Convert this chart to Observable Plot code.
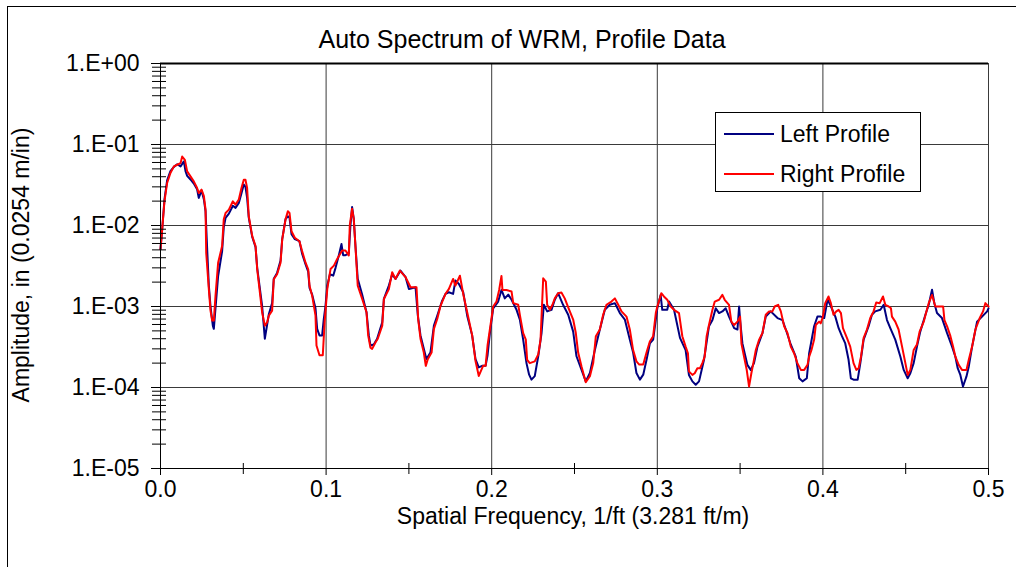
<!DOCTYPE html>
<html>
<head>
<meta charset="utf-8">
<script src="https://cdn.jsdelivr.net/npm/d3@7"></script>
<script src="https://cdn.jsdelivr.net/npm/@observablehq/plot@0.6"></script>
<style>
  html, body { margin: 0; padding: 0; background: #fff; }
  body { font-family: "Liberation Sans", Arial, sans-serif; color: #000; }
  #wrap { position: relative; width: 1016px; height: 567px; overflow: hidden; background: #fff; }
  #chart { position: absolute; left: 0; top: 0; }
  #outer { position: absolute; left: 7px; top: 6px; width: 1200px; height: 800px; border-left: 1px solid #000; border-top: 1px solid #000; pointer-events: none; }
  .txt { position: absolute; white-space: nowrap; font-size: 23px; line-height: 1; }
  #title { left: 522px; top: 27px; transform: translateX(-50%); font-size: 25px; }
  #xtitle { left: 573px; top: 505px; transform: translateX(-50%); }
  #ytitle { left: 21px; top: 265px; transform: translate(-50%, -50%) rotate(-90deg); }
  #legend { position: absolute; left: 715px; top: 112px; width: 206px; height: 80px; box-sizing: border-box; border: 1px solid #000; background: #fff; }
  .row { position: absolute; left: 0; height: 24px; }
  .row svg { position: absolute; left: 8px; top: 0; }
  .row span { position: absolute; left: 64px; top: 1px; font-size: 23px; line-height: 1; white-space: nowrap; }
</style>
</head>
<body>
<div id="wrap">
  <div id="chart"></div>
  <div id="outer"></div>
  <div id="title" class="txt"></div>
  <div id="xtitle" class="txt"></div>
  <div id="ytitle" class="txt"></div>
  <div id="legend"></div>
</div>
<script>
const titleText = "Auto Spectrum of WRM, Profile Data";
const xTitleText = "Spatial Frequency, 1/ft (3.281 ft/m)";
const yTitleText = "Amplitude, in (0.0254 m/in)";
const seriesNames = ["Left Profile", "Right Profile"];
const seriesColors = ["#000080", "#ff0000"];

const xMajorTicks = [0, 0.1, 0.2, 0.3, 0.4, 0.5];
const xMinorTicks = [0.05, 0.15, 0.25, 0.35, 0.45];
const yMajorTicks = [1, 0.1, 0.01, 0.001, 0.0001, 0.00001];
const yMinorTicks = [
  2e-5, 3e-5, 4e-5, 5e-5, 6e-5, 7e-5, 8e-5, 9e-5,
  2e-4, 3e-4, 4e-4, 5e-4, 6e-4, 7e-4, 8e-4, 9e-4,
  2e-3, 3e-3, 4e-3, 5e-3, 6e-3, 7e-3, 8e-3, 9e-3,
  2e-2, 3e-2, 4e-2, 5e-2, 6e-2, 7e-2, 8e-2, 9e-2,
  2e-1, 3e-1, 4e-1, 5e-1, 6e-1, 7e-1, 8e-1, 9e-1
];

const leftFreq = [
0.0000,0.0010,0.0024,0.0040,0.0060,0.0081,0.0101,0.0121,0.0141,0.0151,0.0161,0.0181,0.0201,0.0221,0.0231,0.0248,0.0262,0.0272,0.0282,0.0292,
0.0302,0.0316,0.0322,0.0332,0.0348,0.0372,0.0382,0.0393,0.0413,0.0437,0.0453,0.0473,0.0489,0.0503,0.0513,0.0523,0.0533,0.0554,0.0574,0.0584,
0.0598,0.0614,0.0630,0.0644,0.0654,0.0674,0.0684,0.0704,0.0725,0.0735,0.0755,0.0769,0.0779,0.0791,0.0811,0.0839,0.0855,0.0876,0.0892,0.0900,
0.0916,0.0936,0.0946,0.0960,0.0976,0.0986,0.0996,0.1007,0.1023,0.1043,0.1057,0.1077,0.1093,0.1103,0.1117,0.1137,0.1147,0.1157,0.1167,0.1177,
0.1191,0.1218,0.1244,0.1258,0.1268,0.1288,0.1308,0.1339,0.1349,0.1379,0.1399,0.1419,0.1449,0.1480,0.1500,0.1540,0.1554,0.1570,0.1590,0.1606,
0.1630,0.1651,0.1671,0.1701,0.1721,0.1741,0.1767,0.1781,0.1802,0.1828,0.1852,0.1882,0.1902,0.1922,0.1942,0.1963,0.1975,0.1989,0.2009,0.2039,
0.2059,0.2079,0.2100,0.2120,0.2150,0.2170,0.2190,0.2210,0.2226,0.2240,0.2260,0.2281,0.2301,0.2315,0.2335,0.2361,0.2381,0.2401,0.2431,0.2462,
0.2492,0.2512,0.2542,0.2568,0.2593,0.2623,0.2653,0.2683,0.2713,0.2744,0.2774,0.2804,0.2834,0.2854,0.2874,0.2895,0.2915,0.2935,0.2955,0.2975,
0.2991,0.3000,0.3020,0.3030,0.3060,0.3071,0.3101,0.3137,0.3171,0.3191,0.3212,0.3232,0.3252,0.3282,0.3312,0.3333,0.3353,0.3373,0.3393,0.3413,
0.3433,0.3464,0.3484,0.3494,0.3500,0.3514,0.3544,0.3564,0.3584,0.3605,0.3635,0.3655,0.3685,0.3726,0.3756,0.3776,0.3806,0.3836,0.3857,0.3877,
0.3903,0.3917,0.3947,0.3967,0.3987,0.4008,0.4028,0.4044,0.4075,0.4095,0.4115,0.4135,0.4155,0.4169,0.4185,0.4210,0.4226,0.4246,0.4276,0.4296,
0.4316,0.4347,0.4367,0.4387,0.4407,0.4437,0.4468,0.4488,0.4512,0.4528,0.4548,0.4568,0.4588,0.4619,0.4639,0.4659,0.4673,0.4689,0.4719,0.4750,
0.4780,0.4800,0.4814,0.4830,0.4846,0.4867,0.4881,0.4901,0.4931,0.4961,0.4992,0.5000
];
const leftAmp = [
0.0051,0.0089,0.021,0.036,0.047,0.053,0.057,0.0537,0.0618,0.047,0.041,0.037,0.033,0.028,0.0219,0.027,0.021,0.015,0.005,0.0018,
0.0010,0.00058,0.00053,0.00095,0.00238,0.0048,0.0095,0.0124,0.014,0.0175,0.0165,0.019,0.025,0.032,0.030,0.022,0.0125,0.0072,0.0054,0.003,
0.0018,0.001,0.0004,0.0006,0.0008,0.0011,0.0022,0.0026,0.0037,0.0068,0.012,0.013,0.0125,0.0078,0.0068,0.0064,0.0045,0.0033,0.0027,0.0017,
0.0014,0.00095,0.00053,0.00044,0.00044,0.0007,0.001,0.0018,0.0025,0.0024,0.003,0.0043,0.0059,0.0043,0.0043,0.0045,0.010,0.0169,0.0121,0.0057,
0.0022,0.0014,0.00085,0.00044,0.00033,0.00034,0.0004,0.00064,0.00124,0.00181,0.0025,0.00219,0.00277,0.0023,0.00164,0.00173,0.00077,0.00044,0.0003,0.000224,
0.00027,0.00058,0.00077,0.00118,0.00143,0.0015,0.00143,0.00209,0.0019,0.0015,0.00077,0.00044,0.000224,0.000177,0.000185,0.000185,0.00025,0.00047,0.00095,0.00115,
0.0016,0.00126,0.0014,0.00121,0.00091,0.00069,0.00039,0.0002,0.000144,0.000125,0.000138,0.000243,0.00047,0.00105,0.00087,0.00091,0.00121,0.00146,0.00105,0.00079,
0.00049,0.000243,0.000166,0.000119,0.000151,0.00029,0.00052,0.00091,0.00105,0.0011,0.00083,0.00069,0.00039,0.00027,0.000151,0.000125,0.000144,0.00022,0.00035,0.00039,
0.00069,0.00095,0.00139,0.00091,0.00091,0.00115,0.00091,0.00041,0.00029,0.000143,0.000119,0.000108,0.000119,0.00022,0.00057,0.00068,0.00095,0.00083,0.00087,0.00095,
0.00075,0.00054,0.00052,0.0010,0.00068,0.00035,0.00019,0.000165,0.0002,0.00032,0.00047,0.00075,0.00087,0.00072,0.00068,0.00052,0.00034,0.00024,0.00013,0.000119,
0.00013,0.000265,0.00057,0.00075,0.00075,0.00072,0.00121,0.00105,0.00075,0.00054,0.00043,0.00035,0.00022,0.00013,0.000125,0.000125,0.0002,0.00039,0.00057,0.00079,
0.00087,0.00091,0.00105,0.00068,0.00054,0.00039,0.00024,0.000165,0.00013,0.00015,0.0002,0.00032,0.00049,0.00079,0.00105,0.00161,0.0011,0.00083,0.00072,0.00047,
0.00032,0.00024,0.000173,0.000143,0.000103,0.000137,0.000182,0.00032,0.00065,0.00075,0.00087,0.00095
];

const rightFreq = [
0.0000,0.0010,0.0024,0.0040,0.0060,0.0081,0.0101,0.0121,0.0131,0.0147,0.0161,0.0181,0.0201,0.0221,0.0231,0.0248,0.0262,0.0272,0.0276,0.0292,
0.0302,0.0312,0.0322,0.0332,0.0348,0.0372,0.0382,0.0393,0.0413,0.0437,0.0453,0.0473,0.0489,0.0503,0.0513,0.0523,0.0533,0.0554,0.0574,0.0584,
0.0598,0.0614,0.0630,0.0644,0.0654,0.0674,0.0684,0.0704,0.0725,0.0735,0.0755,0.0769,0.0779,0.0791,0.0811,0.0839,0.0855,0.0876,0.0892,0.0900,
0.0916,0.0936,0.0942,0.0960,0.0980,0.0991,0.1007,0.1027,0.1047,0.1067,0.1097,0.1117,0.1137,0.1143,0.1157,0.1167,0.1177,0.1191,0.1218,0.1244,
0.1254,0.1268,0.1278,0.1298,0.1312,0.1339,0.1349,0.1379,0.1399,0.1419,0.1445,0.1480,0.1510,0.1546,0.1556,0.1570,0.1590,0.1602,0.1614,0.1637,
0.1651,0.1671,0.1691,0.1721,0.1741,0.1767,0.1781,0.1808,0.1828,0.1852,0.1882,0.1902,0.1922,0.1948,0.1963,0.1975,0.1989,0.2009,0.2029,0.2045,
0.2059,0.2065,0.2089,0.2120,0.2130,0.2160,0.2170,0.2190,0.2206,0.2214,0.2230,0.2260,0.2281,0.2295,0.2311,0.2327,0.2335,0.2351,0.2367,0.2381,
0.2401,0.2421,0.2441,0.2468,0.2492,0.2508,0.2522,0.2542,0.2568,0.2593,0.2613,0.2629,0.2653,0.2673,0.2693,0.2723,0.2744,0.2764,0.2784,0.2814,
0.2834,0.2854,0.2874,0.2891,0.2915,0.2935,0.2955,0.2975,0.2991,0.3000,0.3016,0.3024,0.3040,0.3060,0.3081,0.3101,0.3131,0.3151,0.3171,0.3185,
0.3191,0.3212,0.3226,0.3242,0.3258,0.3272,0.3286,0.3298,0.3312,0.3333,0.3347,0.3373,0.3393,0.3407,0.3433,0.3447,0.3464,0.3484,0.3500,0.3508,
0.3524,0.3540,0.3554,0.3568,0.3580,0.3595,0.3615,0.3635,0.3655,0.3675,0.3695,0.3709,0.3730,0.3746,0.3766,0.3786,0.3806,0.3826,0.3846,0.3867,
0.3887,0.3907,0.3917,0.3931,0.3947,0.3957,0.3977,0.3987,0.4000,0.4014,0.4034,0.4048,0.4064,0.4081,0.4095,0.4109,0.4121,0.4145,0.4165,0.4185,
0.4202,0.4216,0.4230,0.4246,0.4266,0.4286,0.4306,0.4322,0.4343,0.4363,0.4377,0.4397,0.4411,0.4417,0.4437,0.4457,0.4478,0.4498,0.4512,0.4528,
0.4548,0.4568,0.4584,0.4609,0.4625,0.4639,0.4659,0.4679,0.4699,0.4726,0.4734,0.4750,0.4770,0.4786,0.4800,0.4820,0.4840,0.4867,0.4881,0.4901,
0.4921,0.4947,0.4967,0.4981,0.5000
];
const rightAmp = [
0.0051,0.0089,0.0199,0.0335,0.0445,0.0537,0.0562,0.0589,0.0711,0.0647,0.0466,0.0404,0.0351,0.0290,0.0252,0.0277,0.0230,0.0157,0.0046,0.00163,
0.00089,0.00067,0.00067,0.00135,0.00347,0.00557,0.0119,0.0143,0.0157,0.0199,0.0181,0.0209,0.0290,0.0368,0.0368,0.0290,0.0130,0.0074,0.00557,0.00288,
0.00163,0.00084,0.00058,0.00064,0.00077,0.00089,0.00217,0.0025,0.00347,0.00673,0.0119,0.0150,0.0143,0.0085,0.00705,0.0064,0.00483,0.00347,0.00288,0.0018,
0.00135,0.00077,0.00033,0.00025,0.00025,0.00064,0.00164,0.00291,0.0032,0.00387,0.00491,0.00491,0.00426,0.0100,0.0161,0.0121,0.00566,0.00181,0.00124,0.00085,
0.00044,0.00031,0.0003,0.00036,0.0004,0.00058,0.00124,0.00164,0.00265,0.00219,0.00277,0.0023,0.00173,0.00173,0.0007,0.0004,0.00027,0.000185,0.000224,0.00027,
0.00053,0.0007,0.00102,0.00143,0.00164,0.00219,0.00181,0.0024,0.00143,0.00085,0.00044,0.000214,0.000139,0.000185,0.000185,0.00033,0.00052,0.0010,0.00115,0.0016,
0.00238,0.0016,0.0016,0.00153,0.0011,0.00105,0.00079,0.00047,0.00039,0.00022,0.0002,0.00021,0.000255,0.00039,0.00223,0.00203,0.00105,0.00091,0.00105,0.00126,
0.00146,0.00149,0.00126,0.00091,0.00069,0.00047,0.00027,0.000183,0.000116,0.000138,0.0002,0.00043,0.00052,0.00079,0.00105,0.00115,0.00126,0.00105,0.00087,0.00075,
0.00052,0.00029,0.00021,0.000192,0.000192,0.00027,0.00037,0.00043,0.00083,0.0010,0.00127,0.00146,0.00133,0.00121,0.0010,0.00091,0.00083,0.00043,0.00032,0.000265,
0.000158,0.000143,0.00015,0.000173,0.000173,0.0002,0.00024,0.00043,0.00059,0.00091,0.00115,0.00121,0.00139,0.00121,0.00105,0.00065,0.00059,0.00065,0.00075,0.00035,
0.00024,0.000165,0.000103,0.00015,0.0002,0.00029,0.00039,0.00047,0.00079,0.00087,0.00087,0.0010,0.00105,0.00087,0.00057,0.00047,0.00032,0.000265,0.0002,0.000165,
0.000165,0.00019,0.00024,0.00029,0.00039,0.00059,0.00065,0.00062,0.00075,0.0011,0.00133,0.0011,0.00079,0.00087,0.00091,0.00083,0.00054,0.00041,0.00032,0.0002,
0.000165,0.000173,0.00024,0.00041,0.00052,0.00072,0.00087,0.00112,0.0011,0.00133,0.00105,0.0010,0.00095,0.00075,0.00065,0.00052,0.00032,0.0002,0.000143,0.000165,
0.00029,0.00034,0.00049,0.00065,0.00087,0.0011,0.00139,0.0010,0.0010,0.0010,0.00068,0.00057,0.00043,0.00032,0.00024,0.00019,0.000165,0.000165,0.00022,0.00032,
0.00052,0.00072,0.00087,0.0011,0.0010
];

const leftData = leftFreq.map((f, i) => ({f, a: leftAmp[i]}));
const rightData = rightFreq.map((f, i) => ({f, a: rightAmp[i]}));

const fmtY = d => {
  const e = Math.round(Math.log10(d));
  return "1.E" + (e < 0 ? "-" : "+") + String(Math.abs(e)).padStart(2, "0");
};
const fs = 23;
const gridColor = "#3a3a3a";

const chart = Plot.plot({
  width: 1016,
  height: 567,
  marginLeft: 160,
  marginRight: 28,
  marginTop: 63,
  marginBottom: 99,
  style: {fontFamily: "'Liberation Sans', Arial, sans-serif", fontSize: fs + "px", color: "#000", background: "transparent"},
  x: {domain: [0, 0.5], label: null},
  y: {type: "log", domain: [1e-5, 1], label: null},
  marks: [
    Plot.ruleY(yMajorTicks, {stroke: gridColor, strokeWidth: 1}),
    Plot.ruleX(xMajorTicks, {stroke: gridColor, strokeWidth: 1}),
    Plot.line(leftData, {x: "f", y: "a", stroke: seriesColors[0], strokeWidth: 2}),
    Plot.line(rightData, {x: "f", y: "a", stroke: seriesColors[1], strokeWidth: 2}),
    Plot.ruleY([1], {stroke: "#000", strokeWidth: 2}),
    Plot.ruleX([0], {stroke: "#000", strokeWidth: 1}),
    Plot.ruleY([1e-5], {stroke: "#000", strokeWidth: 1}),
    Plot.axisY(yMajorTicks, {tickSize: 9, tickPadding: 12, tickFormat: fmtY, fontSize: fs, label: null, stroke: "#000"}),
    Plot.axisY(yMinorTicks, {tickSize: 14, dx: 6, tickFormat: () => "", label: null, stroke: "#000"}),
    Plot.axisX(xMajorTicks, {tickSize: 7, tickPadding: 5, tickFormat: d => d.toFixed(1), fontSize: fs, label: null, stroke: "#000"}),
    Plot.axisX(xMinorTicks, {tickSize: 11, dy: -5, tickFormat: () => "", label: null, stroke: "#000"})
  ]
});
document.getElementById("chart").appendChild(chart);

document.getElementById("title").textContent = titleText;
document.getElementById("xtitle").textContent = xTitleText;
document.getElementById("ytitle").textContent = yTitleText;

const legend = d3.select("#legend");
const rowTops = [9, 49];
seriesNames.forEach((name, i) => {
  const row = legend.append("div").attr("class", "row").style("top", rowTops[i] + "px");
  const svg = row.append("svg").attr("width", 50).attr("height", 24);
  svg.append("line").attr("x1", 0).attr("x2", 50).attr("y1", 12).attr("y2", 12)
     .attr("stroke", seriesColors[i]).attr("stroke-width", 2);
  row.append("span").text(name);
});
</script>
</body>
</html>
